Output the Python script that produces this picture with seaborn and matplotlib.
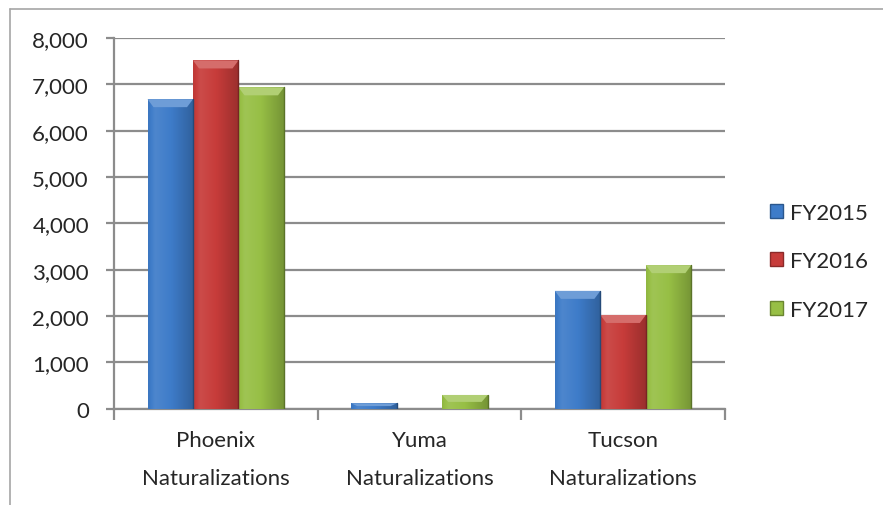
import numpy as np
import pandas as pd
import matplotlib
matplotlib.use("Agg")
import matplotlib.pyplot as plt
import seaborn as sns
from matplotlib.colors import to_rgb
from matplotlib.patches import Polygon
from matplotlib.ticker import FuncFormatter

# data
offices = ["Phoenix\nNaturalizations", "Yuma\nNaturalizations", "Tucson\nNaturalizations"]
years = ["FY2015", "FY2016", "FY2017"]
fy2015 = [6680, 120, 2545]
fy2016 = [7515, 0, 2025]
fy2017 = [6935, 300, 3100]

colors = {"FY2015": "#3E7CC9", "FY2016": "#C73C3A", "FY2017": "#97BF45"}

df = pd.DataFrame({
    "office": offices * 3,
    "year": [y for y in years for _ in offices],
    "count": fy2015 + fy2016 + fy2017,
})

sns.set_style("white")
plt.rcParams["font.family"] = ["Lato", "DejaVu Sans"]

fig = plt.figure(figsize=(8.83, 5.06), dpi=100)
ax = fig.add_axes([0.129, 0.190, 0.692, 0.733])

sns.barplot(data=df, x="office", y="count", hue="year", palette=colors,
            width=0.67, ax=ax, saturation=1, linewidth=0, zorder=3)

ax.set_ylim(0, 8000)
ax.set_yticks(range(0, 8001, 1000))
ax.yaxis.set_major_formatter(FuncFormatter(lambda v, p: f"{int(v):,}"))
ax.set_xlim(-0.5, 2.5)
ax.set_xlabel("")
ax.set_ylabel("")

grid = "#8C8C8C"
ax.grid(axis="y", color=grid, linewidth=1.6, zorder=0)
ax.set_axisbelow(True)
for s in ["top", "right"]:
    ax.spines[s].set_visible(False)
for s in ["left", "bottom"]:
    ax.spines[s].set_color(grid)
    ax.spines[s].set_linewidth(1.6)

# x ticks at category boundaries, labels at centres
ax.set_xticks([-0.5, 0.5, 1.5, 2.5])
ax.set_xticklabels([])
ax.set_xticks([0, 1, 2], minor=True)
ax.set_xticklabels(offices, minor=True, fontsize=16, linespacing=2.15)
ax.tick_params(axis="x", which="major", length=8, width=1.6, color=grid, direction="out", bottom=True)
ax.tick_params(axis="x", which="minor", length=0, pad=15)
ax.tick_params(axis="y", length=6, width=1.6, color=grid, direction="out", left=True, labelsize=16, pad=12)

# shaded "cylinder" look on each bar
def shade(c, f):
    r = np.array(to_rgb(c))
    return np.clip(r * f if f < 1 else r + (1 - r) * (f - 1), 0, 1)

xpx = 3 / 612.0
ypx = 8000 / 371.0
for container, yr in zip(ax.containers, years):
    base = colors[yr]
    n = 64
    t = np.linspace(0, 1, n)
    prof = np.interp(t, [0, 0.15, 0.5, 1], [0.95, 1.08, 1.0, 0.78])
    img = np.array([[shade(base, f) for f in prof]])
    for bar in container:
        h = bar.get_height()
        if h <= 0:
            continue
        x0, w = bar.get_x(), bar.get_width()
        im = ax.imshow(img, extent=[x0, x0 + w, 0, h], aspect="auto",
                       interpolation="bicubic", zorder=3.5)
        im.set_clip_path(bar)
        bh = min(8 * ypx, h * 0.5)
        bi = 6 * xpx
        top = Polygon([[x0, h], [x0 + w, h], [x0 + w - bi, h - bh], [x0 + bi, h - bh]],
                      closed=True, facecolor=shade(base, 1.25), edgecolor="none", zorder=3.6)
        ax.add_patch(top)
        ax.plot([x0 + w, x0 + w], [0, h], color=shade(base, 0.6), lw=1, zorder=3.7)

ax.legend_.remove()
handles = [plt.Rectangle((0, 0), 1, 1, facecolor=colors[y], edgecolor=shade(colors[y], 0.7)) for y in years]
fig.legend(handles, years, loc="center left", bbox_to_anchor=(0.862, 0.482),
           frameon=False, fontsize=16, handlelength=0.6, handleheight=0.6,
           handletextpad=0.3, labelspacing=1.28, borderaxespad=0)

# outer chart frame (left and top edges visible)
fx = 10 / 883
fy = 1 - 10 / 506
fig.add_artist(plt.Line2D([fx, fx], [0, fy], color="#A6A6A6", lw=1.2))
fig.add_artist(plt.Line2D([fx, 1], [fy, fy], color="#A6A6A6", lw=1.2))

fig.savefig("out.png", dpi=100)
